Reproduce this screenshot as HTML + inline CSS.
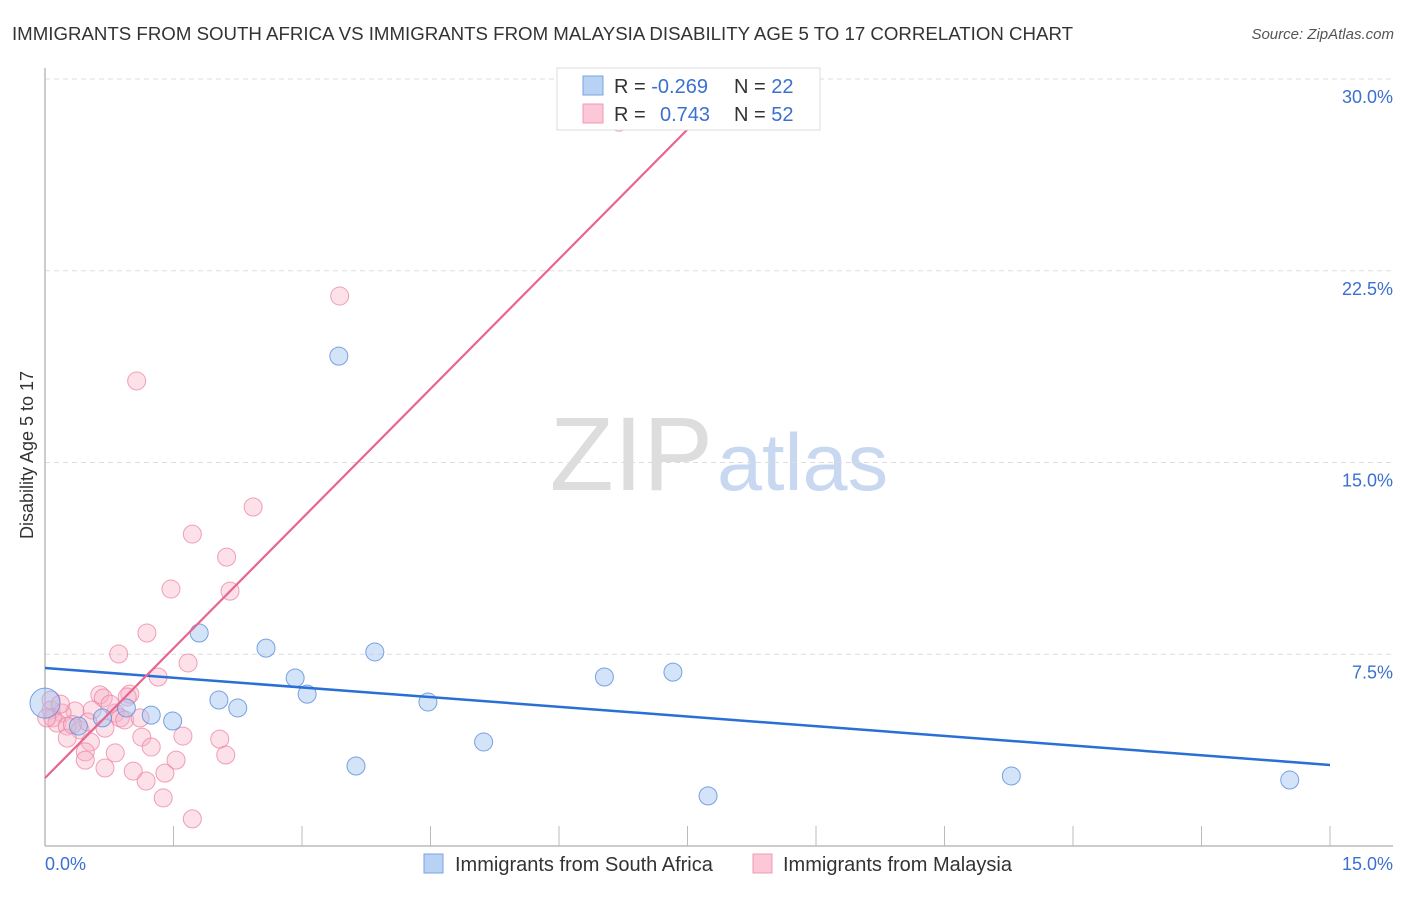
<!DOCTYPE html>
<html><head><meta charset="utf-8"><style>
body{margin:0;background:#fff;font-family:"Liberation Sans",sans-serif;}
svg text{font-family:"Liberation Sans",sans-serif;}
</style></head><body>
<svg id="chart" width="1406" height="892" xmlns="http://www.w3.org/2000/svg">
<text x="12" y="40" font-size="18" fill="#333" textLength="1061" lengthAdjust="spacingAndGlyphs">IMMIGRANTS FROM SOUTH AFRICA VS IMMIGRANTS FROM MALAYSIA DISABILITY AGE 5 TO 17 CORRELATION CHART</text>
<text x="1394" y="39" font-size="15" fill="#555" text-anchor="end" font-style="italic">Source: ZipAtlas.com</text>
<text x="713" y="490" font-size="105" text-anchor="end" fill="#ddd" font-family="Liberation Serif">ZIP</text>
<text x="717" y="490" font-size="81" fill="#c8d8f0">atlas</text>
<text transform="translate(33,455) rotate(-90)" font-size="18" fill="#333" text-anchor="middle">Disability Age 5 to 17</text>
<g id="grid"></g><g id="marks"></g><g id="lines"></g>
<g>
<rect x="557" y="68" width="263" height="62" fill="#fff" stroke="#ddd"/>
<rect x="583" y="76" width="20" height="19" fill="#b8d2f5" stroke="#7aa3e0"/>
<rect x="583" y="104" width="20" height="19" fill="#fcc8d8" stroke="#f099b5"/>
<text x="614" y="93" font-size="20" fill="#333">R = <tspan fill="#3b70d0">-0.269</tspan></text>
<text x="734" y="93" font-size="20" fill="#333">N = <tspan fill="#3b70d0">22</tspan></text>
<text x="614" y="121" font-size="20" fill="#333">R = </text>
<text x="660" y="121" font-size="20" fill="#3b70d0">0.743</text>
<text x="734" y="121" font-size="20" fill="#333">N = <tspan fill="#3b70d0">52</tspan></text>
</g>
<g>
<rect x="424" y="854" width="19" height="19" fill="#b8d2f5" stroke="#7aa3e0"/>
<text x="455" y="871" font-size="20" fill="#333">Immigrants from South Africa</text>
<rect x="753" y="854" width="19" height="19" fill="#fcc8d8" stroke="#f099b5"/>
<text x="783" y="871" font-size="20" fill="#333">Immigrants from Malaysia</text>
</g>
</svg>
<script>
const xTicks=[0,1.5,3,4.5,6,7.5,9,10.5,12,13.5,15];
const yTicks=[7.5,15,22.5,30];
const yTickLabels=["7.5%","15.0%","22.5%","30.0%"];
const xEndLabels=["0.0%","15.0%"];
const blueX=[0,0.39,0.67,0.95,1.24,1.49,1.80,2.03,2.25,2.58,2.92,3.06,3.43,3.63,3.85,4.47,5.12,6.53,7.33,7.74,11.28,14.53];
const blueY=[5.59,4.69,5.01,5.40,5.12,4.89,8.33,5.71,5.40,7.74,6.57,5.94,19.16,3.13,7.59,5.63,4.07,6.61,6.80,1.96,2.74,2.58];
const pinkX=[1.19,0.86,1.67,1.32,0.64,0.68,0.99,0.96,0.07,0.07,0.35,0.55,0.82,0.88,0.20,0.09,0.14,0.26,0.93,0.70,0.41,0.26,0.53,1.13,1.24,1.61,2.04,2.11,0.47,0.47,0.82,0.70,1.03,1.18,1.40,1.53,1.38,1.72,6.70,3.44,1.07,2.43,1.72,2.12,1.47,2.16,0.02,0.18,0.50,1.11,0.76,0.32];
const pinkY=[8.33,7.51,7.16,6.61,5.91,5.79,5.94,5.83,5.71,5.32,5.28,5.32,5.20,5.01,5.20,5.01,4.81,4.69,4.93,4.61,4.54,4.22,4.07,4.26,3.87,4.30,4.18,3.56,3.68,3.36,3.64,3.05,2.93,2.54,2.85,3.36,1.88,1.06,28.31,21.51,18.19,13.26,12.20,11.30,10.05,9.97,5.01,5.55,4.85,5.01,5.55,4.75];
const blueTrend=[6.96,3.17];
const pinkTrend=[2.66,29.72,8.0];
const NS="http://www.w3.org/2000/svg";
const X=v=>45+v/15*1285, Y=v=>846-v/30*767;
function mk(tag,attrs,parent){const e=document.createElementNS(NS,tag);for(const k in attrs)e.setAttribute(k,attrs[k]);parent.appendChild(e);return e;}
const grid=document.getElementById('grid'),marks=document.getElementById('marks'),lines=document.getElementById('lines');
yTicks.forEach((t,i)=>{
 const l=mk('line',{x1:45,x2:1393,y1:Y(t),y2:Y(t),stroke:'#ddd','stroke-dasharray':'5,4'},grid);
 
 
 const tx=mk('text',{x:1393,y:Y(t)+24,'font-size':18,fill:'#3b70d0','text-anchor':'end'},grid);
 tx.textContent=yTickLabels[i];
 
 
});
const ax=mk('line',{x1:45,x2:1393,y1:846,y2:846,stroke:'#bbb','stroke-width':1.5},grid);


const ay=mk('line',{x1:45,x2:45,y1:68,y2:846,stroke:'#bbb','stroke-width':1.5},grid);


xTicks.forEach(t=>{
 const l=mk('line',{x1:X(t),x2:X(t),y1:826,y2:846,stroke:'#bbb'},grid);
 
 
});
[[X(0),'start'],[1393,'end']].forEach((p,i)=>{
 const tx=mk('text',{x:p[0],y:870,'font-size':18,fill:'#3b70d0','text-anchor':p[1]},grid);
 tx.textContent=xEndLabels[i];
 
 
});
pinkX.forEach((x,i)=>{
 const c=mk('circle',{cx:X(x),cy:Y(pinkY[i]),r:9,fill:'rgba(248,175,198,0.38)',stroke:'rgba(236,130,165,0.75)','stroke-width':1},marks);
 
 
});
blueX.forEach((x,i)=>{
 const c=mk('circle',{cx:X(x),cy:Y(blueY[i]),r:i===0?15:9,fill:'rgba(160,196,240,0.45)',stroke:'rgba(90,140,220,0.8)','stroke-width':1},marks);
 
 
});
const bl=mk('line',{x1:X(0),y1:Y(blueTrend[0]),x2:X(15),y2:Y(blueTrend[1]),stroke:'#2a6fd6','stroke-width':2.5},lines);


const pl=mk('line',{x1:X(0),y1:Y(pinkTrend[0]),x2:X(pinkTrend[2]),y2:Y(pinkTrend[1]),stroke:'#e8658f','stroke-width':2.2},lines);


</script>
</body></html>
